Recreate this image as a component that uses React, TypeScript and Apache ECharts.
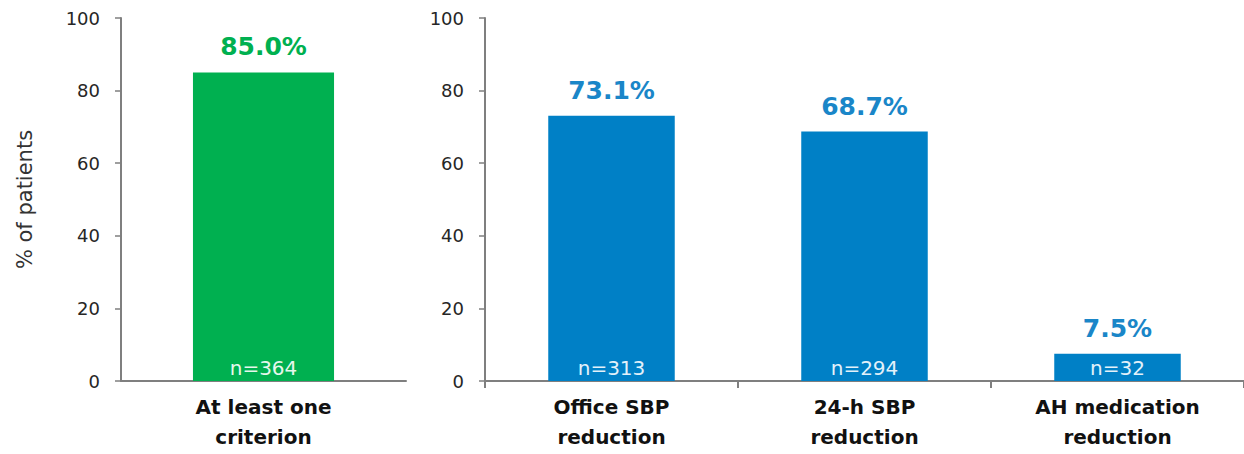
import React, { useEffect, useRef } from "react";
import * as echarts from "echarts";

const leftCategories = ["At least one\ncriterion"];
const leftValues = [85.0];
const leftN = ["n=364"];

const rightCategories = ["Office SBP\nreduction", "24-h SBP\nreduction", "AH medication\nreduction"];
const rightValues = [73.1, 68.7, 7.5];
const rightN = ["n=313", "n=294", "n=32"];

const yTicks = [0, 20, 40, 60, 80, 100];
const yTitle = "% of patients";

const GREEN = "#00B050";
const BLUE = "#0080C6";
const AXIS = "#7f7f7f";
const FONT = "DejaVu Sans, sans-serif";

export default function App() {
  const ref = useRef<HTMLDivElement>(null);
  useEffect(() => {
    if (!ref.current) return;
    const chart = echarts.init(ref.current, null, { renderer: "svg" });
    const yAxisBase = (idx: number) => ({
      type: "value",
      gridIndex: idx,
      min: yTicks[0],
      max: yTicks[yTicks.length - 1],
      interval: yTicks[1] - yTicks[0],
      splitLine: { show: false },
      axisLine: { show: true, lineStyle: { color: AXIS, width: 2 } },
      axisTick: { show: true, length: 6, lineStyle: { color: AXIS, width: 1.5 } },
      axisLabel: { color: "#262626", fontSize: 18, fontFamily: FONT, margin: 21 },
    });
    const xAxisBase = (idx: number, cats: string[], ticks: boolean) => ({
      type: "category",
      gridIndex: idx,
      data: cats,
      axisLine: { show: true, lineStyle: { color: AXIS, width: 2 } },
      axisTick: { show: ticks, length: 7, lineStyle: { color: AXIS, width: 2 } },
      axisLabel: {
        color: "#111",
        fontSize: 20,
        fontWeight: "bold",
        fontFamily: FONT,
        lineHeight: 30,
        margin: 11,
        interval: 0,
      },
    });
    chart.setOption({
      animation: false,
      grid: [
        { left: 121, top: 18, width: 285, height: 363 },
        { left: 485, top: 18, width: 760, height: 363 },
      ],
      xAxis: [xAxisBase(0, leftCategories, false), xAxisBase(1, rightCategories, true)],
      yAxis: [
        {
          ...yAxisBase(0),
          name: yTitle,
          nameLocation: "middle",
          nameGap: 86,
          nameTextStyle: { color: "#333", fontSize: 21, fontFamily: FONT },
        },
        yAxisBase(1),
      ],
      series: [
        {
          type: "bar",
          xAxisIndex: 0,
          yAxisIndex: 0,
          data: leftValues,
          barWidth: "49.5%",
          itemStyle: { color: GREEN },
          label: {
            show: true,
            position: "top",
            distance: 13,
            formatter: (p: any) => p.value.toFixed(1) + "%",
            color: GREEN,
            fontSize: 25,
            fontWeight: "bold",
            fontFamily: FONT,
          },
        },
        {
          type: "bar",
          xAxisIndex: 0,
          yAxisIndex: 0,
          data: leftValues,
          barWidth: "49.5%",
          barGap: "-100%",
          itemStyle: { color: "transparent" },
          label: {
            show: true,
            position: "insideBottom",
            distance: 3,
            formatter: (p: any) => leftN[p.dataIndex],
            color: "#e6f7ec",
            fontSize: 20,
            fontFamily: FONT,
          },
        },
        {
          type: "bar",
          xAxisIndex: 1,
          yAxisIndex: 1,
          data: rightValues,
          barWidth: "50%",
          itemStyle: { color: BLUE },
          label: {
            show: true,
            position: "top",
            distance: 13,
            formatter: (p: any) => p.value.toFixed(1) + "%",
            color: "#1A86C8",
            fontSize: 25,
            fontWeight: "bold",
            fontFamily: FONT,
          },
        },
        {
          type: "bar",
          xAxisIndex: 1,
          yAxisIndex: 1,
          data: rightValues,
          barWidth: "50%",
          barGap: "-100%",
          itemStyle: { color: "transparent" },
          label: {
            show: true,
            position: "insideBottom",
            distance: 3,
            formatter: (p: any) => rightN[p.dataIndex],
            color: "#e3f1fa",
            fontSize: 20,
            fontFamily: FONT,
          },
        },
      ],
    });
    return () => chart.dispose();
  }, []);
  return (
    <div
      ref={ref}
      style={{ position: "fixed", left: 0, top: 0, width: 1244, height: 454, background: "#fff" }}
    />
  );
}
